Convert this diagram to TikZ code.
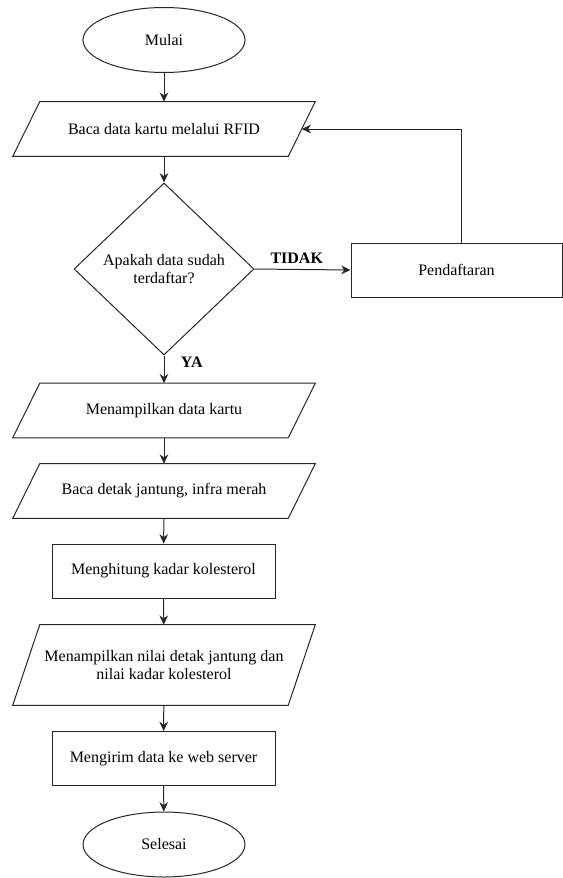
\documentclass[tikz,border=0pt]{standalone}
\usepackage{fontspec}
\setmainfont{Liberation Serif}
\usetikzlibrary{shapes.geometric,arrows.meta}

\begin{document}
\begin{tikzpicture}[x=0.75pt, y=-0.75pt,
    font=\fontsize{12}{14}\selectfont,
    line/.style={draw=black!85, line width=0.75pt},
    arrow/.style={line, -{Stealth[length=7pt,width=6.5pt]}},
    lbl/.style={font=\fontsize{12}{14}\selectfont\bfseries},
    term/.style={shape=ellipse, line, minimum width=121.5pt, minimum height=48.75pt},
    io/.style={shape=rectangle, align=center, inner xsep=1pt,
        minimum width=206.25pt, minimum height=40.5pt,
        append after command={\pgfextra{\let\ionode\tikzlastnode
            \draw[line] ([xshift=10.125pt]\ionode.north west) -- ([xshift=10.125pt]\ionode.north east)
                -- ([xshift=-10.125pt]\ionode.south east) -- ([xshift=-10.125pt]\ionode.south west) -- cycle;}}},
    proc/.style={shape=rectangle, line, align=center, minimum width=167.25pt, minimum height=40.5pt},
    cond/.style={shape=diamond, line, align=center, inner sep=0pt, minimum width=135pt, minimum height=129pt}]
    \useasboundingbox (0,0) rectangle (563,878);

    \node[term] (mulai) at (164,40) {Mulai};
    \node[io] (baca) at (164,129) {Baca data kartu melalui RFID};
    \node[cond] (cek) at (164,269) {Apakah data sudah\\terdaftar?};
    \node[proc, minimum width=158.25pt] (daftar) at (456.5,270) {Pendaftaran};
    \node[io] (tampil) at (164,410.5) {Menampilkan data kartu};
    \node[io] (detak) at (164,491) {Baca detak jantung, infra merah};
    \node[proc] (hitung) at (163.5,571) {Menghitung kadar kolesterol};
    \node[io, minimum height=60pt, font=\fontsize{12}{13.5}\selectfont] (nilai) at (164,665)
        {Menampilkan nilai detak jantung dan\\nilai kadar kolesterol};
    \node[proc] (kirim) at (163.5,758.5) {Mengirim data ke web server};
    \node[term] (selesai) at (164,844.5) {Selesai};

    \draw[arrow] (mulai) -- (baca);
    \draw[arrow] (baca) -- (cek);
    \draw[arrow] (cek.east) -- node[lbl, above=1pt, pos=0.44] {TIDAK} (daftar.west);
    \draw[arrow] ([xshift=4pt]daftar.north) |- (baca.east);
    \draw[arrow] (cek.south) -- node[lbl, right=9pt, pos=0.25] {YA} (tampil.north);
    \draw[arrow] (tampil) -- (detak);
    \draw[arrow] (detak) -- (hitung);
    \draw[arrow] (hitung) -- (nilai);
    \draw[arrow] (nilai) -- (kirim);
    \draw[arrow] (kirim) -- (selesai);
\end{tikzpicture}
\end{document}
